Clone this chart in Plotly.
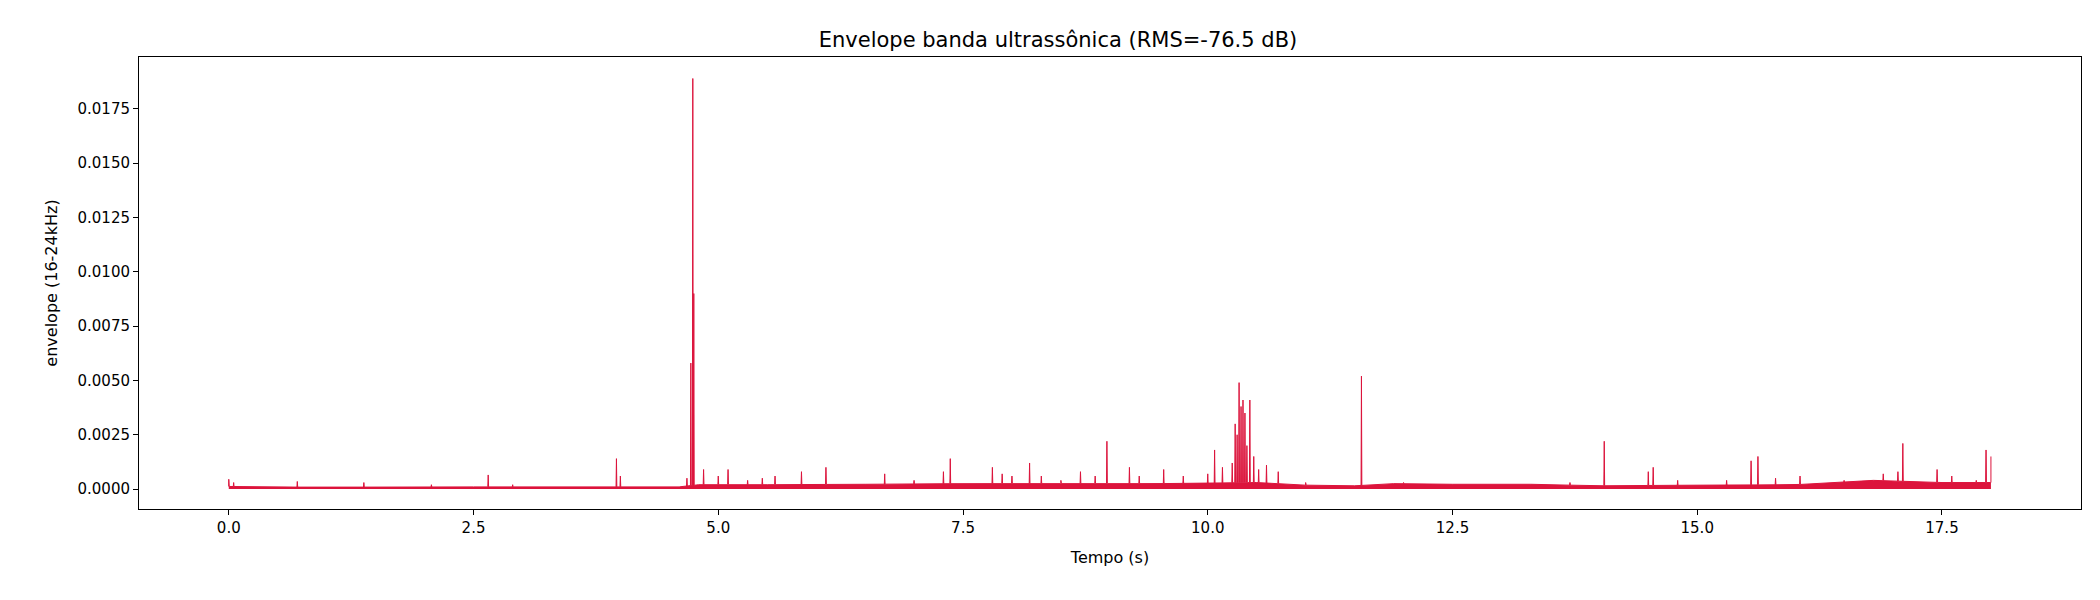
import plotly.graph_objects as go

# baseline level segments (time, level)
base_t = [0.0, 0.5, 1.5, 2.5, 3.5, 4.6, 4.8, 5.5, 6.5, 7.5, 8.5, 9.5, 10.5, 11.0, 11.5, 11.9, 12.5, 13.3, 14.0, 15.0, 16.0, 16.8, 17.5, 18.0]
base_v = [0.00012, 0.00009, 0.00009, 0.0001, 0.0001, 0.0001, 0.0002, 0.0002, 0.00022, 0.00025, 0.00025, 0.00025, 0.0003, 0.00018, 0.00015, 0.00025, 0.00022, 0.00022, 0.00015, 0.00018, 0.0002, 0.0004, 0.0003, 0.0003]

# spikes (time, peak)
spk_t = [0.0, 0.05, 0.7, 1.38, 2.07, 2.65, 2.9, 3.96, 4.0, 4.68, 4.72, 4.74, 4.75, 4.85, 5.0, 5.1, 5.3, 5.45, 5.58,
         5.85, 6.1, 6.7, 7.0, 7.3, 7.37, 7.8, 7.9, 8.0, 8.18, 8.3, 8.5, 8.7, 8.85, 8.97, 9.2, 9.3, 9.55, 9.75, 10.0,
         10.07, 10.15, 10.25, 10.28, 10.3, 10.32, 10.34, 10.36, 10.38, 10.4, 10.43, 10.47, 10.52, 10.6, 10.72, 11.0,
         11.57, 12.0, 13.7, 14.05, 14.5, 14.55, 14.8, 15.3, 15.55, 15.62, 15.8, 16.05, 16.5, 16.9, 17.05, 17.1, 17.45,
         17.6, 17.85, 17.95, 18.0]
spk_v = [0.00045, 0.0003, 0.00035, 0.0003, 0.0002, 0.00065, 0.0002, 0.0014, 0.0006, 0.0005, 0.0058, 0.0189, 0.009,
         0.0009, 0.0006, 0.0009, 0.0004, 0.0005, 0.0006, 0.0008, 0.001, 0.0007, 0.0004, 0.0008, 0.0014, 0.001, 0.0007,
         0.0006, 0.0012, 0.0006, 0.0004, 0.0008, 0.0006, 0.0022, 0.001, 0.0006, 0.0009, 0.0006, 0.0007, 0.0018, 0.001,
         0.0012, 0.003, 0.0025, 0.0049, 0.0038, 0.0041, 0.0035, 0.002, 0.0041, 0.0015, 0.0009, 0.0011, 0.0008, 0.0003,
         0.0052, 0.0003, 0.0003, 0.0022, 0.0008, 0.001, 0.0004, 0.0004, 0.0013, 0.0015, 0.0005, 0.0006, 0.0004, 0.0007,
         0.0008, 0.0021, 0.0009, 0.0006, 0.0004, 0.0018, 0.0015]

def level(t):
    for i in range(len(base_t) - 1):
        if base_t[i] <= t <= base_t[i + 1]:
            f = (t - base_t[i]) / (base_t[i + 1] - base_t[i])
            return base_v[i] + f * (base_v[i + 1] - base_v[i])
    return base_v[-1]

pts = [(t, v) for t, v in zip(base_t, base_v)]
d = 0.004
for t, v in zip(spk_t, spk_v):
    pts += [(max(0, t - d), level(t)), (t, v), (min(18.0, t + d), level(t))]
pts.sort()
x = [p[0] for p in pts]
y = [p[1] for p in pts]

fig = go.Figure(go.Scatter(x=x, y=y, mode="lines", line=dict(color="crimson", width=1),
                           fill="tozeroy", fillcolor="crimson"))
ax = dict(showline=True, mirror=True, linecolor="black", linewidth=1, ticks="outside",
          tickcolor="black", showgrid=False, zeroline=False, tickfont=dict(size=15, color="black"))
fig.update_layout(
    width=2100, height=600, plot_bgcolor="white", paper_bgcolor="white",
    font=dict(family="DejaVu Sans", color="black"),
    margin=dict(l=131, r=27, t=49, b=99),
    title=dict(text="Envelope banda ultrassônica (RMS=-76.5 dB)", x=0.5, xanchor="center", y=0.96, font=dict(size=21)),
    showlegend=False,
)
fig.update_xaxes(**ax, range=[-0.917, 18.92], dtick=2.5, tick0=0, tickformat=".1f",
                 title=dict(text="Tempo (s)", font=dict(size=16)))
fig.update_yaxes(**ax, range=[-0.000918, 0.01989], dtick=0.0025, tick0=0, tickformat=".4f",
                 title=dict(text="envelope (16-24kHz)", font=dict(size=16)))
fig.write_html("out.html")
